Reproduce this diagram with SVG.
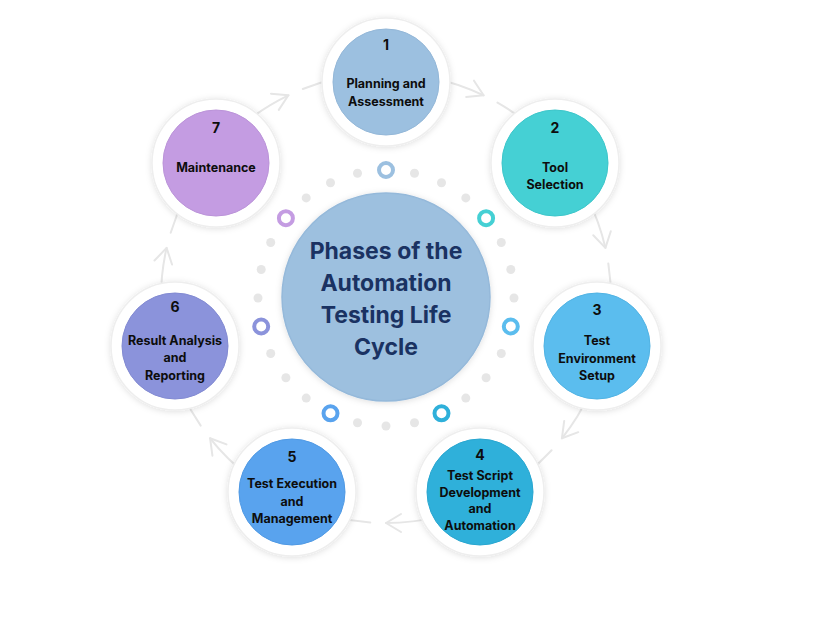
<svg xmlns="http://www.w3.org/2000/svg" width="825" height="638" viewBox="0 0 825 638">
<defs>
<filter id="sh" x="-30%" y="-30%" width="160%" height="160%"><feDropShadow dx="0" dy="1" stdDeviation="3" flood-color="#000" flood-opacity="0.13"/></filter>
<marker id="chev" markerUnits="userSpaceOnUse" markerWidth="20" markerHeight="20" refX="0" refY="0" orient="auto" overflow="visible"><path d="M-15,-9 L0,0 L-15,9" fill="none" stroke="#e6e6e6" stroke-width="2" stroke-linecap="round" stroke-linejoin="round"/></marker>
</defs>
<style>
.halo{fill:#fff;stroke:#eeeeee;stroke-width:1.5;filter:url(#sh)}
.num{font-family:Inter,"Liberation Sans",sans-serif;font-weight:700;font-size:14px;fill:#0d0d0d;text-anchor:middle}
.lbl{font-family:Inter,"Liberation Sans",sans-serif;font-weight:700;font-size:12.5px;fill:#0d0d0d;text-anchor:middle}
.title{font-family:Inter,"Liberation Sans",sans-serif;font-weight:700;font-size:23px;fill:#1a3262;text-anchor:middle}
.dot{fill:#e6e6e6}
.ring{fill:#fff;stroke-width:4}
.conn{fill:none;stroke:#e6e6e6;stroke-width:2;stroke-linecap:round}
</style>
<rect width="825" height="638" fill="#fff"/>
<g id="connectors">
<path class="conn" d="M432.8,77.9 A225,225 0 0 1 483.6,95.3" marker-end="url(#chev)"/>
<path class="conn" d="M497.5,102.6 A225,225 0 0 1 529,124.3"/>
<path class="conn" d="M587.2,197.4 A225,225 0 0 1 605.4,247.9" marker-end="url(#chev)"/>
<path class="conn" d="M608.3,263.4 A225,225 0 0 1 611,301.4"/>
<path class="conn" d="M590.1,392.6 A225,225 0 0 1 561.9,438.3" marker-end="url(#chev)"/>
<path class="conn" d="M551.6,450.3 A225,225 0 0 1 523.6,476"/>
<path class="conn" d="M439.3,516.6 A225,225 0 0 1 386,523" marker-end="url(#chev)"/>
<path class="conn" d="M370.3,522.5 A225,225 0 0 1 332.7,516.6"/>
<path class="conn" d="M248.4,476 A225,225 0 0 1 210.1,438.3" marker-end="url(#chev)"/>
<path class="conn" d="M200.7,425.6 A225,225 0 0 1 181.8,392.6"/>
<path class="conn" d="M161,301.4 A225,225 0 0 1 166.6,247.9" marker-end="url(#chev)"/>
<path class="conn" d="M170.7,232.8 A225,225 0 0 1 184.8,197.4"/>
<path class="conn" d="M243,124.3 A225,225 0 0 1 288.4,95.3" marker-end="url(#chev)"/>
<path class="conn" d="M302.8,88.95 A225,225 0 0 1 339.2,77.9"/>
</g>
<g id="dots">
<circle class="dot" cx="414.5" cy="173.2" r="4.5"/>
<circle class="dot" cx="441.5" cy="182.7" r="4.5"/>
<circle class="dot" cx="465.8" cy="197.9" r="4.5"/>
<circle class="dot" cx="501.3" cy="242.5" r="4.5"/>
<circle class="dot" cx="510.8" cy="269.5" r="4.5"/>
<circle class="dot" cx="514" cy="298" r="4.5"/>
<circle class="dot" cx="501.3" cy="353.5" r="4.5"/>
<circle class="dot" cx="486.1" cy="377.8" r="4.5"/>
<circle class="dot" cx="465.8" cy="398.1" r="4.5"/>
<circle class="dot" cx="414.5" cy="422.8" r="4.5"/>
<circle class="dot" cx="386" cy="426" r="4.5"/>
<circle class="dot" cx="357.5" cy="422.8" r="4.5"/>
<circle class="dot" cx="306.2" cy="398.1" r="4.5"/>
<circle class="dot" cx="285.9" cy="377.8" r="4.5"/>
<circle class="dot" cx="270.7" cy="353.5" r="4.5"/>
<circle class="dot" cx="258" cy="298" r="4.5"/>
<circle class="dot" cx="261.2" cy="269.5" r="4.5"/>
<circle class="dot" cx="270.7" cy="242.5" r="4.5"/>
<circle class="dot" cx="306.2" cy="197.9" r="4.5"/>
<circle class="dot" cx="330.5" cy="182.7" r="4.5"/>
<circle class="dot" cx="357.5" cy="173.2" r="4.5"/>
<circle class="ring" cx="386" cy="170" r="7" stroke="#9cc0e0"/>
<circle class="ring" cx="486.1" cy="218.2" r="7" stroke="#45d0d4"/>
<circle class="ring" cx="510.8" cy="326.5" r="7" stroke="#5bbdee"/>
<circle class="ring" cx="441.5" cy="413.3" r="7" stroke="#2fb0da"/>
<circle class="ring" cx="330.5" cy="413.3" r="7" stroke="#59a3ee"/>
<circle class="ring" cx="261.2" cy="326.5" r="7" stroke="#8b93db"/>
<circle class="ring" cx="285.9" cy="218.2" r="7" stroke="#c49ce2"/>
</g>
<g id="center">
<circle cx="386" cy="297" r="104" fill="#9dc0df" stroke="#95b9da" stroke-width="1.5" filter="url(#sh)"/>
<text class="title" x="386" y="259">Phases of the</text>
<text class="title" x="386" y="291">Automation</text>
<text class="title" x="386" y="323">Testing Life</text>
<text class="title" x="386" y="355">Cycle</text>
</g>
<g id="node1" transform="translate(386,82)">
<circle class="halo" r="64"/>
<circle r="53" fill="#9cc0e0" stroke="#93b7d8"/>
<text class="num" y="-32">1</text>
<text class="lbl" y="6">Planning and</text>
<text class="lbl" y="24">Assessment</text>
</g>
<g id="node2" transform="translate(555,163)">
<circle class="halo" r="64"/>
<circle r="53" fill="#45d0d4" stroke="#3cc6ca"/>
<text class="num" y="-30">2</text>
<text class="lbl" y="9">Tool</text>
<text class="lbl" y="26">Selection</text>
</g>
<g id="node3" transform="translate(597,346)">
<circle class="halo" r="64"/>
<circle r="53" fill="#5bbdee" stroke="#50b3e4"/>
<text class="num" y="-31">3</text>
<text class="lbl" y="-1">Test</text>
<text class="lbl" y="17">Environment</text>
<text class="lbl" y="34">Setup</text>
</g>
<g id="node4" transform="translate(480,492)">
<circle class="halo" r="64"/>
<circle r="53" fill="#2fb0da" stroke="#28a6d0"/>
<text class="num" y="-32">4</text>
<text class="lbl" y="-12">Test Script</text>
<text class="lbl" y="5">Development</text>
<text class="lbl" y="21">and</text>
<text class="lbl" y="38">Automation</text>
</g>
<g id="node5" transform="translate(292,492)">
<circle class="halo" r="64"/>
<circle r="53" fill="#59a3ee" stroke="#4f99e4"/>
<text class="num" y="-30">5</text>
<text class="lbl" y="-4">Test Execution</text>
<text class="lbl" y="14">and</text>
<text class="lbl" y="31">Management</text>
</g>
<g id="node6" transform="translate(175,346)">
<circle class="halo" r="64"/>
<circle r="53" fill="#8b93db" stroke="#828ad2"/>
<text class="num" y="-34">6</text>
<text class="lbl" y="-1">Result Analysis</text>
<text class="lbl" y="16">and</text>
<text class="lbl" y="34">Reporting</text>
</g>
<g id="node7" transform="translate(216,163)">
<circle class="halo" r="64"/>
<circle r="53" fill="#c49ce2" stroke="#bb93d9"/>
<text class="num" y="-30">7</text>
<text class="lbl" y="9">Maintenance</text>
</g>
</svg>
